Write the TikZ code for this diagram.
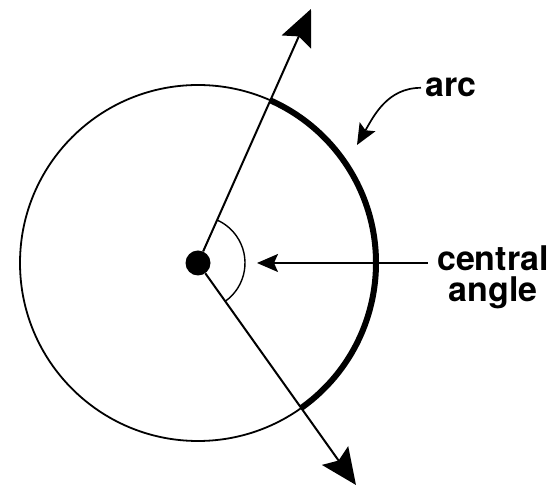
\documentclass[tikz,border=0pt]{standalone}
\usepackage{fontspec}
\setmainfont{TeX Gyre Heros}
\usetikzlibrary{arrows.meta,positioning}

\begin{document}
\begin{tikzpicture}[
        x=1pt, y=1pt,
        rim/.style={line width=1.8pt},
        ray/.style={line width=2pt, -{Stealth[length=36pt, width=32pt, inset=6pt]}},
        pointer/.style={line width=1.7pt, -{Stealth[length=21pt, width=18pt, inset=4pt]}},
        lbl/.style={font=\fontsize{34}{29}\selectfont\bfseries, inner sep=0pt}
    ]
    \useasboundingbox (0,0) rectangle (555,487);
    \node[circle, fill=black, inner sep=0pt, minimum size=25pt] (ctr) at (198,224) {};
    \coordinate (up) at (311,478);
    \coordinate (down) at (356,2);
    \coordinate (angtip) at (257,224);
    \coordinate (arctip) at (357,342);

    \draw[rim] (ctr.center) circle[radius=178];
    \draw[line width=6pt] (ctr.center) ++(-54.5:178) arc[start angle=-54.5, end angle=66, radius=178];
    \draw[line width=1.4pt] (ctr.center) ++(-54.5:47) arc[start angle=-54.5, end angle=66, radius=47];
    \draw[ray] (ctr) -- (up);
    \draw[ray] (ctr) -- (down);

    \node[lbl, anchor=base west, inner xsep=4pt] (arclbl) at (421,390) {arc};
    \node[lbl, anchor=base, inner xsep=9pt] (central) at (493,216) {central};
    \node[lbl, anchor=base] (angle) at (493,185) {angle};

    \draw[pointer] (arclbl.west) to[out=180, in=60] (arctip);
    \draw[pointer] (central.west |- ctr) -- (angtip);
\end{tikzpicture}
\end{document}
